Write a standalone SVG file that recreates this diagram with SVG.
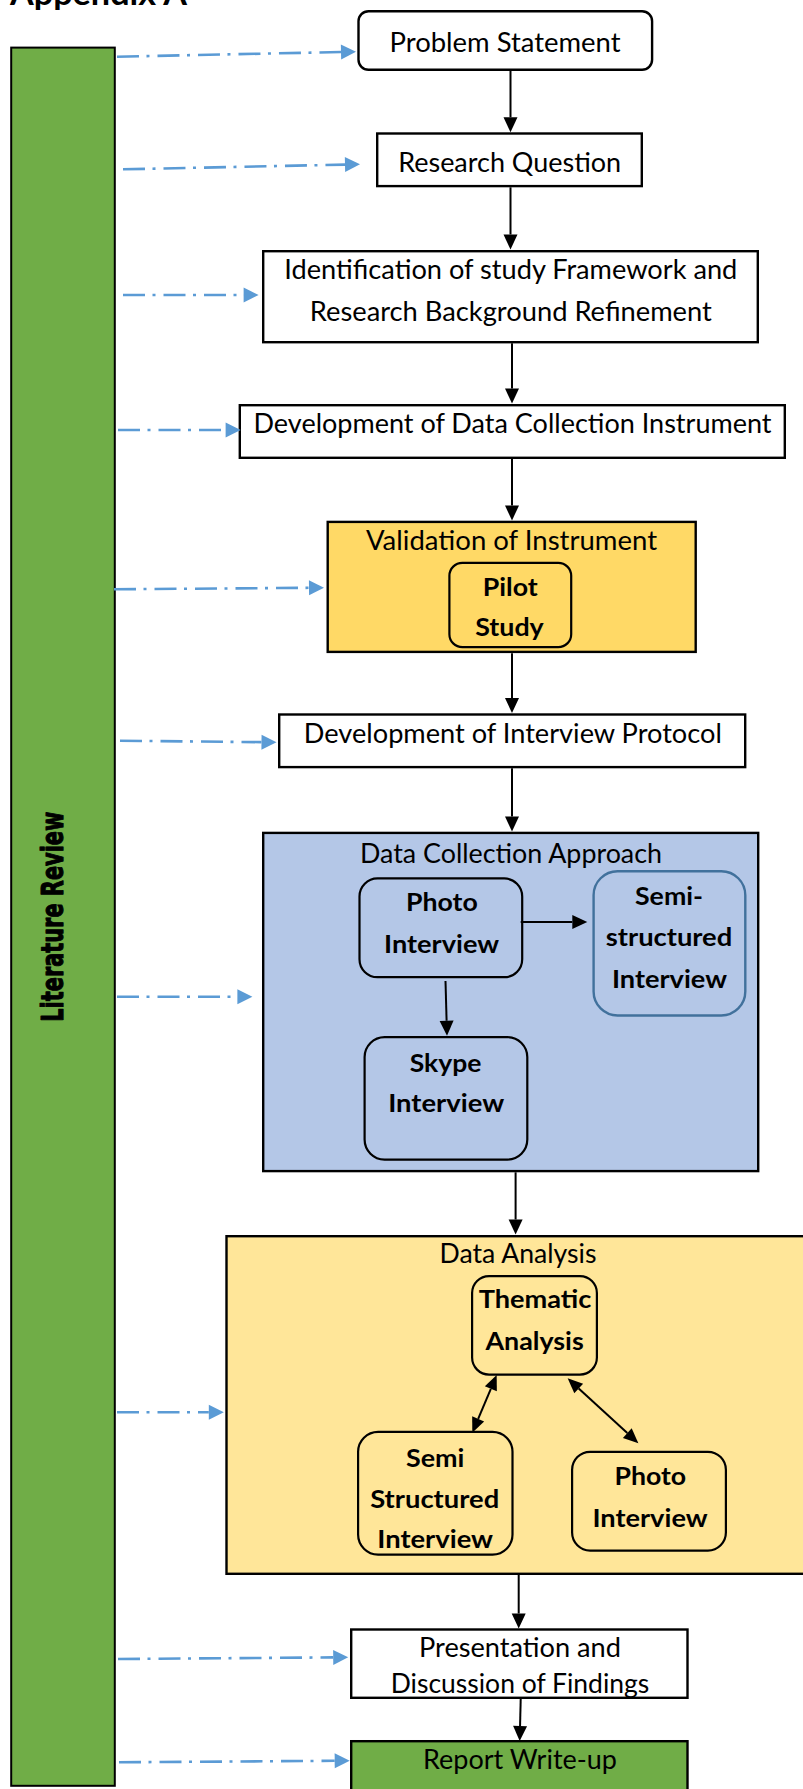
<svg xmlns="http://www.w3.org/2000/svg" width="803" height="1789" viewBox="0 0 803 1789">
  <defs>
    <style>
      .t { font-family: Lato, "Liberation Sans", sans-serif; font-size: 26px; fill: #000; text-anchor: middle; }
      .b { font-family: Lato, "Liberation Sans", sans-serif; font-size: 25px; font-weight: bold; fill: #000; text-anchor: middle; }
      .box { stroke: #000; stroke-width: 2.4; }
      .inner { stroke: #000; stroke-width: 2.2; }
      .dash { fill: none; stroke: #5B9BD5; stroke-width: 2.6; stroke-dasharray: 22 7.5 3 8; }
      .solid { fill: none; stroke: #000; stroke-width: 2; }
    </style>
    <marker id="blueHead" markerUnits="userSpaceOnUse" markerWidth="16" markerHeight="16" refX="0" refY="7.5" orient="auto" overflow="visible">
      <path d="M0,0 L15,7.5 L0,15 Z" fill="#5B9BD5"/>
    </marker>
    <marker id="blackHead" markerUnits="userSpaceOnUse" markerWidth="16" markerHeight="16" refX="0" refY="7" orient="auto" overflow="visible">
      <path d="M0,0 L15,7 L0,14 Z" fill="#000"/>
    </marker>
    <marker id="blackHead2" markerUnits="userSpaceOnUse" markerWidth="16" markerHeight="16" refX="0" refY="6.5" orient="auto-start-reverse" overflow="visible">
      <path d="M0,0 L15,6.5 L0,13 Z" fill="#000"/>
    </marker>
  </defs>

  <rect x="0" y="0" width="803" height="1789" fill="#fff"/>

  <!-- heading, clipped at the page top -->
  <text x="10" y="5" font-family="Lato, 'Liberation Sans', sans-serif" font-size="33" font-weight="bold" textLength="177" lengthAdjust="spacingAndGlyphs">Appendix A</text>

  <!-- side bar -->
  <g id="literature-review">
    <rect x="11.2" y="47.6" width="103.6" height="1738.2" fill="#70AD47" stroke="#000" stroke-width="2"/>
    <text transform="translate(62.5,916.7) rotate(-90)" x="0" y="0" font-family="'DejaVu Sans', sans-serif" font-size="31" font-weight="bold" text-anchor="middle" fill="#000" stroke="#000" stroke-width="1.1" stroke-linejoin="round" textLength="210" lengthAdjust="spacingAndGlyphs">Literature Review</text>
  </g>

  <g id="problem-statement">
    <rect class="box" x="358.5" y="11.2" width="293.6" height="58.6" rx="10" fill="#fff"/>
    <text class="t" x="505" y="52.3" textLength="231" lengthAdjust="spacingAndGlyphs">Problem Statement</text>
  </g>

  <g id="research-question">
    <rect class="box" x="377.2" y="133.5" width="264.6" height="52.6" fill="#fff"/>
    <text class="t" x="509.7" y="171.7" textLength="223" lengthAdjust="spacingAndGlyphs">Research Question</text>
  </g>

  <g id="study-framework">
    <rect class="box" x="263.2" y="251.2" width="494.6" height="91" fill="#fff"/>
    <text class="t" x="510.8" y="279.3" textLength="453" lengthAdjust="spacingAndGlyphs">Identification of study Framework and</text>
    <text class="t" x="510.8" y="320.7" textLength="402" lengthAdjust="spacingAndGlyphs">Research Background Refinement</text>
  </g>

  <g id="instrument-development">
    <rect class="box" x="239.8" y="405.2" width="545" height="52.6" fill="#fff"/>
    <text class="t" x="512.5" y="433.3" textLength="518" lengthAdjust="spacingAndGlyphs">Development of Data Collection Instrument</text>
  </g>

  <g id="instrument-validation">
    <rect class="box" x="327.7" y="521.9" width="368" height="130" fill="#FFD966"/>
    <text class="t" x="511.5" y="549.5" textLength="291" lengthAdjust="spacingAndGlyphs">Validation of Instrument</text>
    <g id="pilot-study">
      <rect class="inner" x="449.4" y="562.8" width="121.8" height="84.4" rx="13" fill="#FFD966"/>
      <text class="b" x="510.2" y="595.5" textLength="55" lengthAdjust="spacingAndGlyphs">Pilot</text>
      <text class="b" x="509.5" y="636" textLength="68.6" lengthAdjust="spacingAndGlyphs">Study</text>
    </g>
  </g>

  <g id="interview-protocol">
    <rect class="box" x="279.2" y="714.5" width="466" height="52.6" fill="#fff"/>
    <text class="t" x="512.8" y="743.3" textLength="418" lengthAdjust="spacingAndGlyphs">Development of Interview Protocol</text>
  </g>

  <g id="data-collection">
    <rect class="box" x="263.2" y="832.9" width="495" height="338.2" fill="#B4C7E7"/>
    <text class="t" x="511" y="862.7" textLength="302" lengthAdjust="spacingAndGlyphs">Data Collection Approach</text>
    <g id="dc-photo-interview">
      <rect class="inner" x="359.5" y="878.4" width="162.7" height="98.8" rx="18" fill="#B4C7E7"/>
      <text class="b" x="441.9" y="910.7" textLength="71.7" lengthAdjust="spacingAndGlyphs">Photo</text>
      <text class="b" x="441.6" y="952.7" textLength="115" lengthAdjust="spacingAndGlyphs">Interview</text>
    </g>
    <g id="dc-semi-structured">
      <rect x="593.6" y="871.2" width="151.7" height="144.3" rx="24" fill="#B4C7E7" stroke="#41719C" stroke-width="2.4"/>
      <text class="b" x="669" y="905" textLength="68" lengthAdjust="spacingAndGlyphs">Semi-</text>
      <text class="b" x="669" y="946" textLength="126.5" lengthAdjust="spacingAndGlyphs">structured</text>
      <text class="b" x="669.5" y="988.3" textLength="115" lengthAdjust="spacingAndGlyphs">Interview</text>
    </g>
    <g id="dc-skype-interview">
      <rect class="inner" x="364.6" y="1037.1" width="162.7" height="122.5" rx="20" fill="#B4C7E7"/>
      <text class="b" x="445.5" y="1071.7" textLength="71.7" lengthAdjust="spacingAndGlyphs">Skype</text>
      <text class="b" x="446.2" y="1112.3" textLength="116" lengthAdjust="spacingAndGlyphs">Interview</text>
    </g>
  </g>

  <g id="data-analysis">
    <rect class="box" x="226.5" y="1236.2" width="600" height="337.6" fill="#FFE699"/>
    <text class="t" x="518" y="1263.3" textLength="157" lengthAdjust="spacingAndGlyphs">Data Analysis</text>
    <g id="da-thematic">
      <rect class="inner" x="472.1" y="1276.1" width="124.8" height="98.5" rx="17" fill="#FFE699"/>
      <text class="b" x="535" y="1308.3" textLength="112.7" lengthAdjust="spacingAndGlyphs">Thematic</text>
      <text class="b" x="534.6" y="1350" textLength="98.3" lengthAdjust="spacingAndGlyphs">Analysis</text>
    </g>
    <g id="da-semi-structured">
      <rect class="inner" x="358.1" y="1431.8" width="154.4" height="122.8" rx="20" fill="#FFE699"/>
      <text class="b" x="435.2" y="1466.7" textLength="58.4" lengthAdjust="spacingAndGlyphs">Semi</text>
      <text class="b" x="434.7" y="1508.3" textLength="129" lengthAdjust="spacingAndGlyphs">Structured</text>
      <text class="b" x="435.2" y="1548.3" textLength="115.7" lengthAdjust="spacingAndGlyphs">Interview</text>
    </g>
    <g id="da-photo-interview">
      <rect class="inner" x="572.1" y="1451.8" width="153.8" height="98.8" rx="18" fill="#FFE699"/>
      <text class="b" x="650.3" y="1485" textLength="71.7" lengthAdjust="spacingAndGlyphs">Photo</text>
      <text class="b" x="650" y="1526.7" textLength="115.2" lengthAdjust="spacingAndGlyphs">Interview</text>
    </g>
  </g>

  <g id="findings">
    <rect class="box" x="351.2" y="1629.5" width="336.3" height="68.3" fill="#fff"/>
    <text class="t" x="520" y="1657.3" textLength="202" lengthAdjust="spacingAndGlyphs">Presentation and</text>
    <text class="t" x="520" y="1692.7" textLength="258.6" lengthAdjust="spacingAndGlyphs">Discussion of Findings</text>
  </g>

  <g id="report-write-up">
    <rect class="box" x="351.2" y="1741.2" width="336.3" height="60" fill="#70AD47"/>
    <text class="t" x="520" y="1769" textLength="194" lengthAdjust="spacingAndGlyphs">Report Write-up</text>
  </g>

  <g id="connectors">
    <!-- literature review feeds every stage -->
    <path class="dash" d="M117,56.7 L341,52" marker-end="url(#blueHead)"/>
    <path class="dash" d="M123,169.3 L345,164.6" marker-end="url(#blueHead)"/>
    <path class="dash" d="M123,295 L243.6,295" marker-end="url(#blueHead)"/>
    <path class="dash" d="M118,430 L225.6,430" marker-end="url(#blueHead)"/>
    <path class="dash" d="M114,589.3 L309,587.8" marker-end="url(#blueHead)"/>
    <path class="dash" d="M120,740.7 L261.5,742.15" marker-end="url(#blueHead)"/>
    <path class="dash" d="M117,996.7 L237.4,996.7" marker-end="url(#blueHead)"/>
    <path class="dash" d="M117,1412.3 L208.8,1412.3" marker-end="url(#blueHead)"/>
    <path class="dash" d="M118,1659 L333.2,1657.4" marker-end="url(#blueHead)"/>
    <path class="dash" d="M119,1762.3 L334.7,1760.8" marker-end="url(#blueHead)"/>

    <!-- main flow -->
    <path class="solid" d="M510.5,71 L510.5,117.3" marker-end="url(#blackHead)"/>
    <path class="solid" d="M510.5,187.3 L510.5,234.5" marker-end="url(#blackHead)"/>
    <path class="solid" d="M512,343.3 L512,388.5" marker-end="url(#blackHead)"/>
    <path class="solid" d="M512,459 L512,505.5" marker-end="url(#blackHead)"/>
    <path class="solid" d="M512,653.3 L512,698" marker-end="url(#blackHead)"/>
    <path class="solid" d="M512,768.3 L512,816.5" marker-end="url(#blackHead)"/>
    <path class="solid" d="M515.6,1172.3 L515.6,1219.5" marker-end="url(#blackHead)"/>
    <path class="solid" d="M518.7,1575 L518.7,1613.5" marker-end="url(#blackHead)"/>
    <path class="solid" d="M520.7,1699 L520.06,1726" marker-end="url(#blackHead)"/>

    <!-- inside data collection -->
    <path class="solid" d="M520.7,922 L572.3,922" marker-end="url(#blackHead)"/>
    <path class="solid" d="M445.5,981 L446.6,1020.7" marker-end="url(#blackHead)"/>

    <!-- inside data analysis -->
    <path class="solid" d="M490.85,1388.8 L478.15,1418.9" marker-start="url(#blackHead2)" marker-end="url(#blackHead2)"/>
    <path class="solid" d="M578.7,1388.5 L627.3,1433.1" marker-start="url(#blackHead2)" marker-end="url(#blackHead2)"/>
  </g>
</svg>
